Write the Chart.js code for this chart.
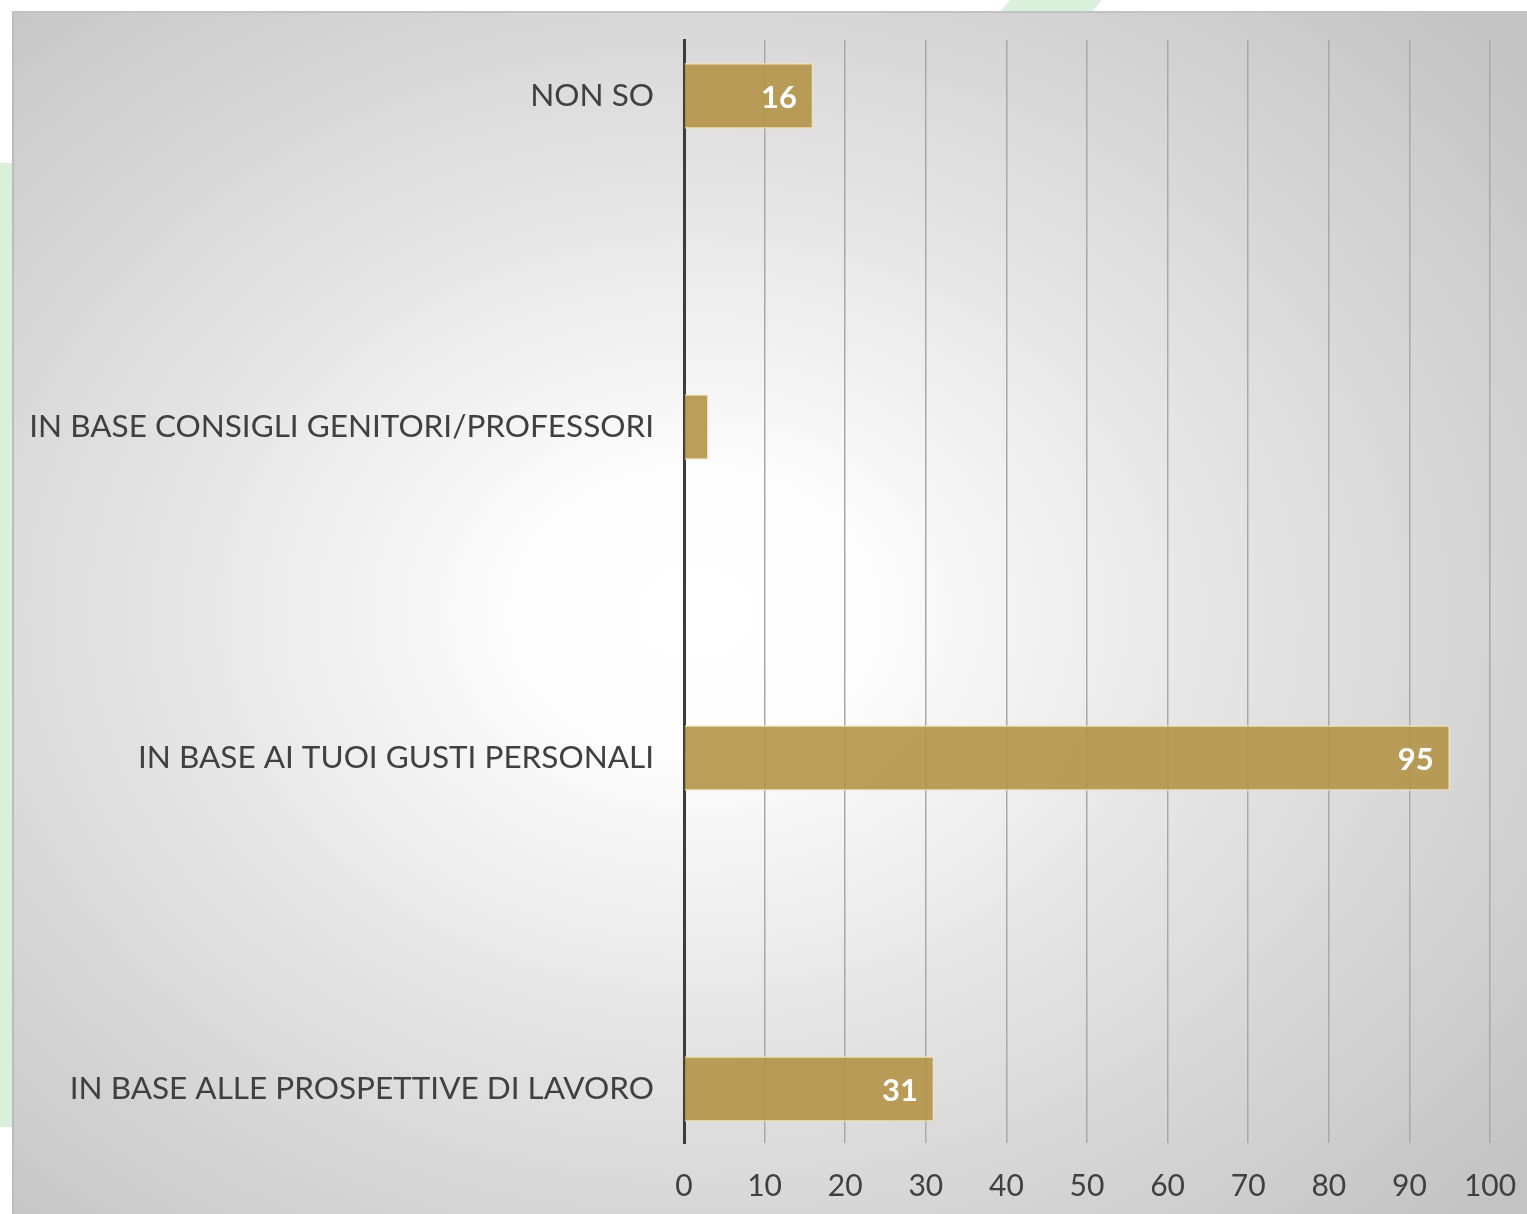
<!DOCTYPE html>
<html>
<head>
<meta charset="utf-8">
<script src="https://cdn.jsdelivr.net/npm/chart.js@4.4.0/dist/chart.umd.min.js"></script>
<style>
  html, body { margin: 0; padding: 0; background: #ffffff; width: 1527px; height: 1214px; overflow: hidden; }
  .greenLeft { position: absolute; left: 0; top: 163px; width: 14px; height: 964px; background: #daf0da; }
  .greenTop { position: absolute; left: 1000px; top: 0; width: 102px; height: 12px; background: #daf0da;
              clip-path: polygon(10% 0, 100% 0, 90% 100%, 0 100%); }
  .panel { position: absolute; left: 12px; top: 11px; width: 1515px; height: 1203px;
           border-top: 2px solid #c2c2c2; border-left: 2px solid #bcbcbc; box-sizing: border-box;
           background: radial-gradient(ellipse 72% 72% at 45% 50%, #ffffff 0%, #fdfdfd 16%, #e4e4e4 50%, #c3c3c3 100%); }
  #wrap { position: absolute; left: 12px; top: 11px; width: 1515px; height: 1203px; }
</style>
</head>
<body>
<div class="greenLeft"></div>
<div class="greenTop"></div>
<div class="panel"></div>
<div id="wrap"><canvas id="c" width="1515" height="1203"></canvas></div>
<script>
const categories = ["NON SO", "IN BASE CONSIGLI GENITORI/PROFESSORI", "IN BASE AI TUOI GUSTI PERSONALI", "IN BASE ALLE PROSPETTIVE DI LAVORO"];
const values = [16, 3, 95, 31];
const shownLabels = ["16", "", "95", "31"];
const xTicks = [0, 10, 20, 30, 40, 50, 60, 70, 80, 90, 100];

const FONT = "'Lato', 'DejaVu Sans', sans-serif";

const valueLabels = {
  id: 'valueLabels',
  afterDatasetsDraw(chart) {
    const ctx = chart.ctx;
    const meta = chart.getDatasetMeta(0);
    ctx.save();
    ctx.fillStyle = '#ffffff';
    ctx.font = "bold 31px " + FONT;
    ctx.textAlign = 'right';
    ctx.textBaseline = 'middle';
    meta.data.forEach((bar, i) => {
      const t = shownLabels[i];
      if (!t) return;
      ctx.fillText(t, bar.x - 16, bar.y + 2);
    });
    ctx.restore();
  }
};

new Chart(document.getElementById('c'), {
  type: 'bar',
  data: {
    datasets: [{
      data: values.map((v, i) => ({ x: v, y: i })),
      backgroundColor: 'rgba(178,148,72,0.9)',
      borderColor: 'rgba(238,226,190,0.9)',
      borderWidth: 1.5,
      borderSkipped: 'start',
      barThickness: 65
    }]
  },
  options: {
    indexAxis: 'y',
    responsive: false,
    animation: false,
    layout: { padding: { top: 29, right: 37, bottom: 0, left: 0 } },
    plugins: { legend: { display: false }, tooltip: { enabled: false } },
    scales: {
      x: {
        type: 'linear',
        min: 0, max: 100,
        afterBuildTicks: axis => { axis.ticks = xTicks.map(v => ({ value: v })); },
        afterFit: axis => { axis.height = 71; axis.paddingLeft = 0; axis.paddingRight = 0; },
        grid: { color: c => c.tick && c.tick.value === 0 ? 'rgba(0,0,0,0)' : '#a8a8a8', lineWidth: 1.5, drawTicks: false },
        border: { display: false },
        ticks: { color: '#404040', font: { family: FONT, size: 30 }, padding: 25 }
      },
      y: {
        type: 'linear',
        reverse: true,
        offset: false,
        min: -0.169, max: 3.163,
        afterBuildTicks: axis => { axis.ticks = categories.map((_, i) => ({ value: i })); },
        afterFit: axis => { axis.width = 672; axis.paddingTop = 0; axis.paddingBottom = 0; },
        grid: { display: false, drawTicks: false, offset: false },
        border: { display: true, color: '#3c3c3c', width: 3 },
        ticks: { color: '#404040', font: { family: FONT, size: 31.5 }, padding: 30,
                 callback: v => categories[v] !== undefined ? categories[v] : '' }
      }
    }
  },
  plugins: [valueLabels]
});
</script>
</body>
</html>
